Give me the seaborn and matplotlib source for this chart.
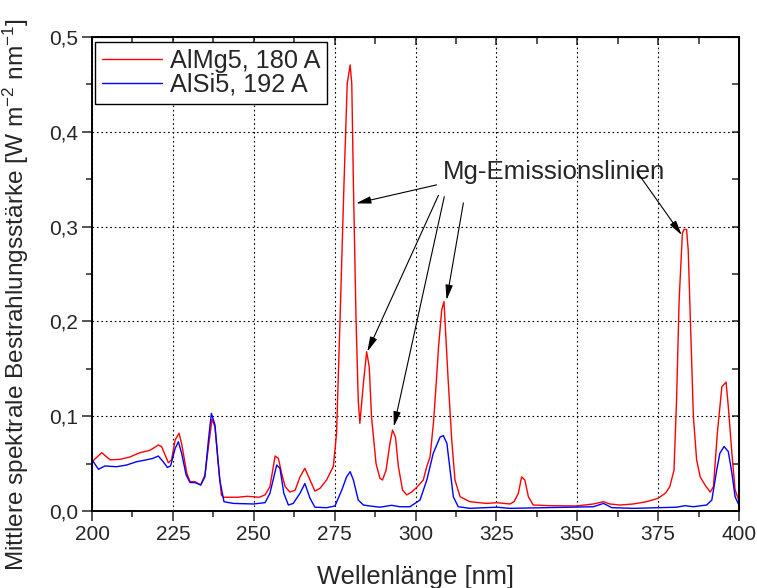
import matplotlib
matplotlib.use("Agg")
import matplotlib.pyplot as plt
from matplotlib.ticker import MultipleLocator, FuncFormatter
import seaborn as sns
import pandas as pd

# ---- data ----
red_x = [200, 203, 205.6, 208.7, 211.7, 214.8, 217.9, 220.5, 221.5, 223.6, 224.6, 225.7, 226.9, 227.7,
         229.3, 230.3, 231.8, 233.6, 234.9, 236.0, 237.1, 238.0, 239.0, 240.0, 240.6, 245, 248, 251.7,
         253.5, 255.0, 256.6, 257.6, 258.6, 259.7, 261.2, 262.8, 264.3, 265.8, 267.4, 268.9, 270.5,
         272.5, 274.6, 275.6, 276.7, 277.9, 278.9, 279.8, 280.3, 280.8, 281.6, 282.3, 282.8, 283.9,
         284.9, 285.7, 286.4, 287.8, 289.0, 289.8, 290.9, 292.1, 292.9, 293.8, 294.7, 296.0, 297.3,
         298.8, 300.4, 302.4, 303.5, 304.5, 305.6, 306.5, 307.1, 308.1, 308.8, 310.1, 311.2, 312.2,
         313.8, 316.8, 322.0, 325.1, 329.2, 330.5, 331.8, 332.8, 333.8, 334.9, 336.4, 341.6, 349.8,
         355.0, 358.1, 360.1, 363.2, 367.3, 371.4, 375.0, 377.3, 378.6, 379.9, 380.7, 381.5, 382.5,
         383.0, 383.8, 384.3, 385.1, 385.9, 386.9, 388.0, 389.5, 391.1, 392.1, 393.3, 394.7, 396.0,
         396.7, 397.8, 398.8, 400.0]
red_y = [0.052, 0.0615, 0.054, 0.0545, 0.057, 0.0615, 0.064, 0.0696, 0.068, 0.051, 0.054, 0.075, 0.082, 0.071,
         0.040, 0.031, 0.031, 0.0275, 0.038, 0.068, 0.097, 0.089, 0.050, 0.017, 0.0145, 0.0145, 0.0155, 0.0145,
         0.017, 0.0256, 0.058, 0.0556, 0.040, 0.0256, 0.020, 0.022, 0.036, 0.045, 0.0327, 0.021, 0.024,
         0.0327, 0.047, 0.082, 0.205, 0.346, 0.451, 0.4705, 0.451, 0.346, 0.205, 0.117, 0.0925, 0.135,
         0.168, 0.152, 0.0995, 0.050, 0.0345, 0.0327, 0.043, 0.0714, 0.0854, 0.078, 0.047, 0.022, 0.017,
         0.020, 0.025, 0.0327, 0.047, 0.057, 0.095, 0.14, 0.172, 0.212, 0.221, 0.138, 0.075, 0.0327,
         0.015, 0.0098, 0.008, 0.0088, 0.0074, 0.010, 0.0187, 0.036, 0.0327, 0.015, 0.0063, 0.0056, 0.0053,
         0.0074, 0.0098, 0.0074, 0.0063, 0.0074, 0.0098, 0.0134, 0.019, 0.0256, 0.043, 0.117, 0.2226, 0.293,
         0.297, 0.297, 0.275, 0.187, 0.0995, 0.054, 0.036, 0.0274, 0.020, 0.0256, 0.082, 0.131, 0.136,
         0.110, 0.061, 0.022, 0.011]

blue_x = [200, 202, 204, 207.6, 210.7, 213.8, 216.9, 218.9, 220.5, 222.0, 223.3, 224.3, 225.7, 226.7,
          227.7, 229.1, 230.3, 231.8, 233.6, 234.9, 236.0, 236.9, 238.0, 239.5, 240.8, 243.7, 249.9,
          253.5, 255.0, 257.1, 258.1, 259.3, 260.7, 262.2, 264.3, 265.8, 267.4, 268.9, 272.5, 275.1,
          277.2, 278.7, 279.8, 280.8, 282.3, 283.9, 285.9, 289.0, 292.6, 295.2, 298.3, 301.4, 303.5,
          305.5, 307.6, 308.6, 309.7, 310.7, 311.7, 313.2, 316.8, 325.1, 329.2, 355.0, 358.1, 360.7,
          367.3, 380.7, 383.3, 385.9, 390.0, 391.6, 393.1, 394.1, 395.4, 396.7, 397.8, 398.8, 400.0]
blue_y = [0.054, 0.044, 0.0475, 0.0467, 0.0485, 0.052, 0.054, 0.0556, 0.058, 0.052, 0.046, 0.0475, 0.066, 0.073,
          0.061, 0.038, 0.030, 0.030, 0.0274, 0.036, 0.075, 0.103, 0.091, 0.0327, 0.0098, 0.008, 0.0074,
          0.0088, 0.0187, 0.0485, 0.045, 0.0187, 0.0063, 0.008, 0.0187, 0.029, 0.0134, 0.004, 0.0035, 0.0053,
          0.022, 0.036, 0.0415, 0.0327, 0.0116, 0.0063, 0.0053, 0.004, 0.006, 0.0045, 0.0045, 0.0116, 0.0327,
          0.061, 0.078, 0.0795, 0.0714, 0.043, 0.015, 0.0045, 0.0028, 0.004, 0.0028, 0.0045, 0.008, 0.0035,
          0.0028, 0.004, 0.0056, 0.0045, 0.0063, 0.0116, 0.043, 0.061, 0.068, 0.0626, 0.040, 0.015, 0.006]

series_names = ["AlMg5, 180 A", "AlSi5, 192 A"]
x_ticks = [200, 225, 250, 275, 300, 325, 350, 375, 400]
y_ticks = [0.0, 0.1, 0.2, 0.3, 0.4, 0.5]
annotation_text = "Mg-Emissionslinien"

df = pd.concat([
    pd.DataFrame({"x": red_x, "y": red_y, "s": series_names[0]}),
    pd.DataFrame({"x": blue_x, "y": blue_y, "s": series_names[1]}),
])

sns.set_style("ticks")
plt.rcParams["font.family"] = ["Liberation Sans", "DejaVu Sans"]
plt.rcParams["mathtext.fontset"] = "custom"
plt.rcParams["mathtext.rm"] = "Liberation Sans"
plt.rcParams["mathtext.it"] = "Liberation Sans:italic"

fig = plt.figure(figsize=(7.57, 5.88), dpi=100)
ax = fig.add_axes([92 / 757, 1 - 511 / 588, (739 - 92) / 757, (511 - 37) / 588])

sns.lineplot(data=df, x="x", y="y", hue="s", palette=["#ff0000", "#0000ff"],
             estimator=None, sort=False, lw=1.0, ax=ax, legend=True)

ax.set_xlim(200, 400)
ax.set_ylim(0, 0.5)
ax.set_xticks(x_ticks)
ax.set_yticks(y_ticks)
ax.xaxis.set_minor_locator(MultipleLocator(12.5))
ax.yaxis.set_minor_locator(MultipleLocator(0.05))
ax.yaxis.set_major_formatter(FuncFormatter(lambda v, p: f"{v:.1f}".replace(".", ",")))
ax.tick_params(which="major", direction="out", length=7, width=1.1, labelsize=15, pad=3)
ax.tick_params(which="minor", direction="out", length=4, width=1.1)
for s in ax.spines.values():
    s.set_linewidth(1.4)
    s.set_color("black")

ax.grid(True, which="major", linestyle=(0, (1.5, 2.5)), color="black", lw=0.8)

# mirrored ticks on top/right pointing inward
secx = ax.secondary_xaxis("top")
secx.set_xticks(x_ticks)
secx.xaxis.set_minor_locator(MultipleLocator(12.5))
secx.tick_params(which="both", direction="in", length=6, width=1.1, labeltop=False)
secx.tick_params(which="minor", length=5)
secy = ax.secondary_yaxis("right")
secy.set_yticks(y_ticks)
secy.yaxis.set_minor_locator(MultipleLocator(0.05))
secy.tick_params(which="both", direction="in", length=5, width=1.1, labelright=False)

ax.set_xlabel("Wellenlänge [nm]", fontsize=18.4, labelpad=15)
ax.set_ylabel(r"Mittlere spektrale Bestrahlungsstärke [W m$^{\mathregular{-2}}$ nm$^{\mathregular{-1}}$]",
              fontsize=17.6)
ax.yaxis.set_label_coords((31 - 92) / 647, (511 - 294) / 474)

leg = ax.legend(loc="upper left", bbox_to_anchor=(0.004, 0.99), borderaxespad=0, fontsize=18.2,
                frameon=True, fancybox=False, edgecolor="black", framealpha=1,
                handlelength=2.4, borderpad=0.28, labelspacing=0.0, handletextpad=0.3)
leg.get_frame().set_linewidth(1.0)
leg.set_title(None)

ax.text(308.5, 0.3576, annotation_text, fontsize=18.6, ha="left", va="center")

arrow_kw = dict(arrowstyle="-|>,head_length=0.9,head_width=0.22", color="black", lw=0.8,
                shrinkA=0, shrinkB=0)
arrows = [((306.5, 0.344), (281.6, 0.3245)),
          ((307.1, 0.333), (285.1, 0.168)),
          ((308.9, 0.3316), (293.3, 0.089)),
          ((314.8, 0.325), (309.6, 0.2226)),
          ((368.5, 0.3576), (382.3, 0.291))]
for tail, head in arrows:
    ax.annotate("", xy=head, xytext=tail, arrowprops=arrow_kw)

fig.savefig("out.png", dpi=100)
